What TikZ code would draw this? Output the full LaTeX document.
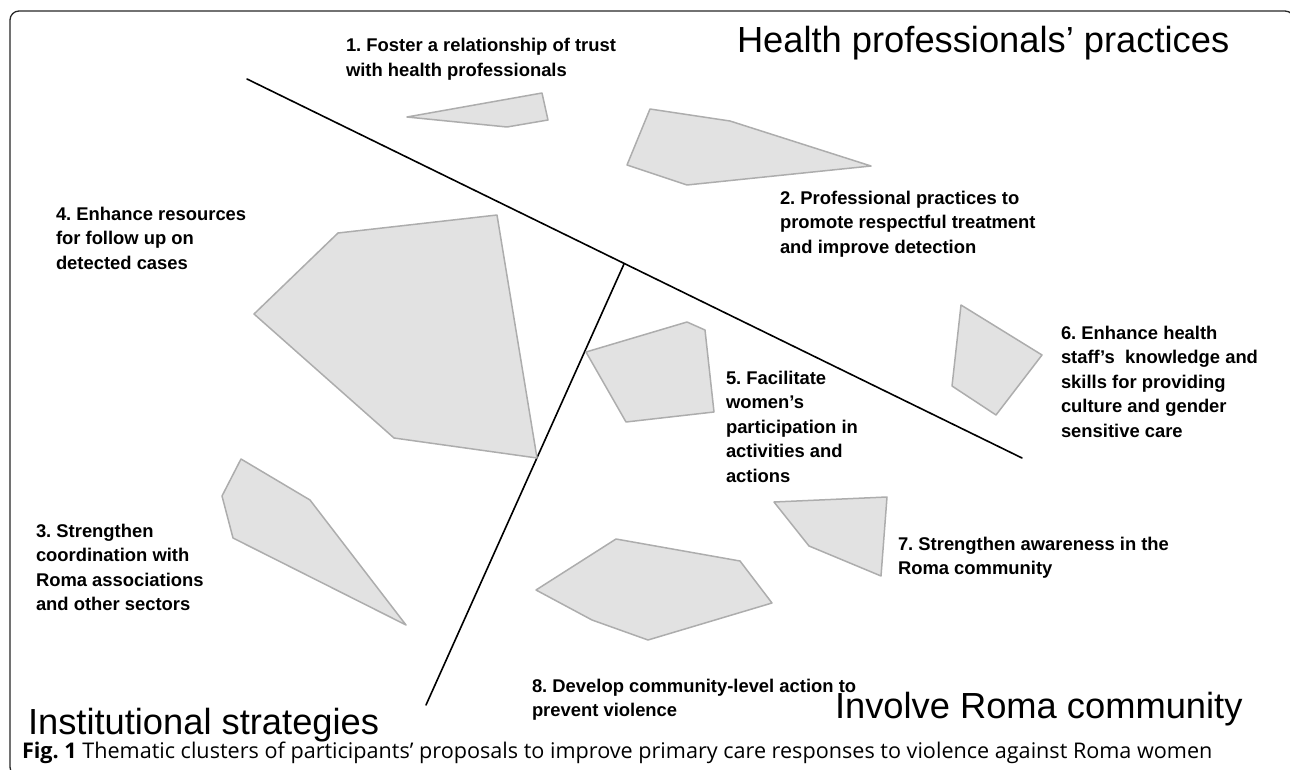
\documentclass[tikz,border=0pt]{standalone}
\usepackage{fontspec}
\setmainfont{Liberation Sans}
\newfontfamily\captionfont{Open Sans}
\frenchspacing
\definecolor{clusterfill}{HTML}{E2E2E2}
\definecolor{clusterline}{HTML}{ADADAD}
\tikzset{
  cluster/.style={draw=clusterline, fill=clusterfill, line width=1.5pt, line join=round},
  divider/.style={draw=black, line width=1.6pt, line cap=round},
  proposal/.style={anchor=base west, align=left, font=\bfseries\fontsize{18.4}{24.5}\selectfont},
  region/.style={anchor=base west, font=\fontsize{36.3}{40}\selectfont},
}
\begin{document}
\begin{tikzpicture}[y=1pt, x=1pt, yscale=-1, inner sep=0pt, outer sep=0pt]
\useasboundingbox (0,0) rectangle (1290,770);
\begin{scope}
  \clip (0,0) rectangle (1290,770);
  \path[draw=black!85, line width=1.3pt, rounded corners=9pt] (10,11) rectangle (1294,776);
\end{scope}
  % dividing lines
  \path[divider] (247,79) -- (1022,458);
  \path[divider] (624,264) -- (426,705);
  % clusters
  \path[cluster] (407,117) -- (542,93) -- (548,120) -- (507,127) -- cycle;
  \path[cluster] (650,109) -- (730,121) -- (871,166) -- (687,185) -- (627,165) -- cycle;
  \path[cluster] (338,233) -- (497,215) -- (537,458) -- (394,438) -- (254,314) -- cycle;
  \path[cluster] (241,459) -- (310,500) -- (406,625) -- (233,538) -- (222,496) -- cycle;
  \path[cluster] (586,352) -- (687,322) -- (705,330) -- (714,412) -- (626,422) -- cycle;
  \path[cluster] (961,305) -- (1042,355) -- (996,415) -- (952,386) -- cycle;
  \path[cluster] (774,502) -- (887,497) -- (881,576) -- (809,546) -- cycle;
  \path[cluster] (616,539) -- (740,561) -- (772,603) -- (648,640) -- (592,620) -- (536,590) -- cycle;
  % labels (anchored at the last line)
  \node[proposal] (p1) at (346,76.5) {1. Foster a relationship of trust\\with health professionals};
  \node[proposal] (p2) at (780,253) {2. Professional practices to\\promote respectful treatment\\and improve detection};
  \node[proposal] (p3) at (36,610.5) {3. Strengthen\\coordination with\\Roma associations\\and other sectors};
  \node[proposal] (p4) at (56,269) {4. Enhance resources\\for follow up on\\detected cases};
  \node[proposal] (p5) at (726,482) {5. Facilitate\\women’s\\participation in\\activities and\\actions};
  \node[proposal] (p6) at (1061,437) {6. Enhance health\\staff’s~ knowledge and\\skills for providing\\culture and gender\\sensitive care};
  \node[proposal] (p7) at (898,574.5) {7. Strengthen awareness in the\\Roma community};
  \node[proposal] (p8) at (532,716.5) {8. Develop community-level action to\\prevent violence};
  \node[region] (health) at (737,53) {Health professionals’ practices};
  \node[region] (institution) at (28,734) {Institutional strategies};
  \node[region] (community) at (835,718) {Involve Roma community};
  \node[anchor=base west, font=\captionfont\fontsize{21.6}{24}\selectfont] (caption) at (22,758) {\textbf{Fig. 1} Thematic clusters of participants’ proposals to improve primary care responses to violence against Roma women};
\end{tikzpicture}
\end{document}
